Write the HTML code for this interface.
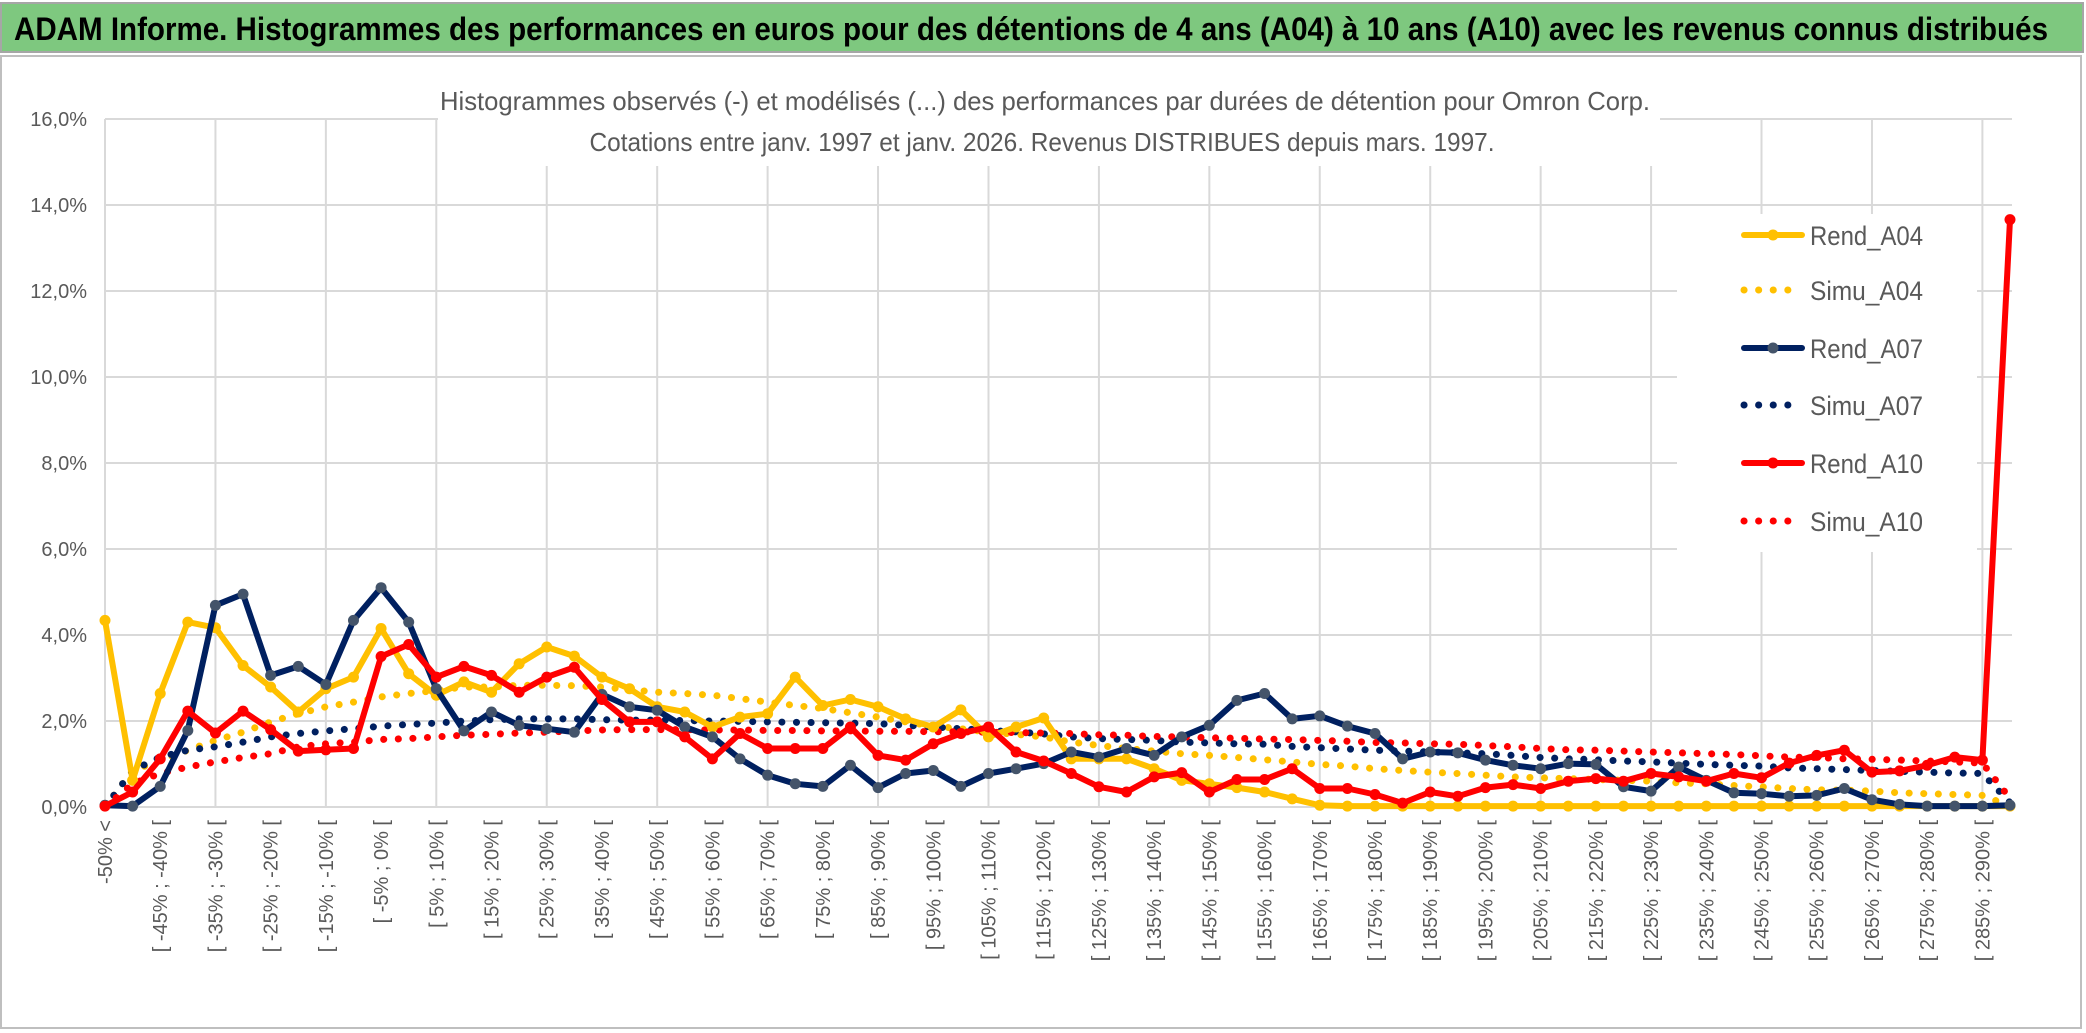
<!DOCTYPE html>
<html><head><meta charset="utf-8"><style>
html,body{margin:0;padding:0;background:#fff;}
svg{display:block;font-family:"Liberation Sans Narrow","Liberation Sans",sans-serif;}
</style></head><body>
<svg id="chart" width="2086" height="1033" viewBox="0 0 2086 1033" xmlns="http://www.w3.org/2000/svg">
<rect x="0" y="0" width="2086" height="1033" fill="#fff"/>
<rect x="1" y="3" width="2082" height="49" fill="#7ec87f" stroke="#a6a6a6" stroke-width="2"/>
<text x="14" y="40" font-size="32" font-weight="bold" fill="#000" textLength="2034" lengthAdjust="spacingAndGlyphs">ADAM Informe. Histogrammes des performances en euros pour des détentions de 4 ans (A04) à 10 ans (A10) avec les revenus connus distribués</text>
<rect x="1" y="56" width="2080" height="972" fill="none" stroke="#bfbfbf" stroke-width="2"/>
<g id="grid"></g>
<rect x="438" y="60" width="1222" height="106" fill="#fff"/>
<text x="1045" y="110" text-anchor="middle" font-size="26" fill="#595959" textLength="1210" lengthAdjust="spacingAndGlyphs">Histogrammes observés (-) et modélisés (...) des performances par durées de détention pour Omron Corp.</text>
<text x="1042" y="151" text-anchor="middle" font-size="26" fill="#595959" textLength="905" lengthAdjust="spacingAndGlyphs">Cotations entre janv. 1997 et janv. 2026. Revenus DISTRIBUES depuis mars. 1997.</text>
<g id="yticks"></g>
<g id="xticks"></g>
<rect x="1677" y="214" width="300" height="338" fill="#fff"/>
<g id="series"></g>
<g id="legend"></g>
</svg>
<script>
const rendA04=[4.34,0.62,2.64,4.30,4.17,3.29,2.79,2.21,2.75,3.02,4.15,3.10,2.60,2.91,2.67,3.33,3.72,3.51,3.02,2.75,2.33,2.21,1.86,2.09,2.17,3.02,2.36,2.50,2.33,2.05,1.86,2.26,1.63,1.86,2.07,1.12,1.12,1.12,0.89,0.62,0.54,0.45,0.35,0.19,0.04,0.02,0.02,0.02,0.02,0.02,0.02,0.02,0.02,0.02,0.02,0.02,0.02,0.02,0.02,0.02,0.02,0.02,0.02,0.02,0.02,0.02,0.02,0.02,0.02,0.02];
const simuA04=[0,0.85,1.08,1.32,1.55,1.74,1.98,2.17,2.33,2.44,2.56,2.64,2.71,2.79,2.79,2.83,2.83,2.82,2.79,2.73,2.67,2.64,2.60,2.52,2.44,2.36,2.29,2.19,2.09,1.98,1.88,1.82,1.74,1.69,1.63,1.51,1.43,1.36,1.30,1.24,1.20,1.15,1.10,1.05,0.99,0.95,0.89,0.85,0.81,0.78,0.74,0.70,0.68,0.66,0.64,0.62,0.60,0.56,0.54,0.50,0.47,0.43,0.40,0.39,0.37,0.33,0.31,0.29,0.27,0.02];
const rendA07=[0.04,0.02,0.48,1.78,4.69,4.95,3.06,3.27,2.85,4.34,5.10,4.30,2.75,1.77,2.21,1.90,1.82,1.74,2.62,2.33,2.25,1.86,1.63,1.12,0.74,0.54,0.48,0.97,0.45,0.78,0.85,0.48,0.78,0.89,1.01,1.28,1.16,1.36,1.20,1.63,1.90,2.48,2.64,2.05,2.12,1.88,1.71,1.12,1.28,1.26,1.09,0.97,0.89,1.01,0.99,0.47,0.37,0.93,0.62,0.33,0.31,0.25,0.27,0.43,0.17,0.06,0.02,0.02,0.02,0.04];
const simuA07=[0,0.85,1.16,1.32,1.40,1.51,1.63,1.71,1.77,1.82,1.88,1.92,1.95,2.00,2.03,2.05,2.05,2.05,2.03,2.02,2.02,2.01,2.00,1.99,1.98,1.97,1.96,1.95,1.94,1.90,1.86,1.82,1.78,1.75,1.70,1.63,1.59,1.57,1.55,1.51,1.49,1.47,1.46,1.41,1.38,1.35,1.32,1.30,1.28,1.26,1.24,1.20,1.15,1.12,1.10,1.07,1.05,1.02,0.99,0.97,0.95,0.91,0.89,0.87,0.85,0.83,0.81,0.79,0.78,0.10];
const rendA10=[0.02,0.35,1.12,2.23,1.72,2.23,1.80,1.30,1.33,1.36,3.50,3.78,3.02,3.27,3.06,2.67,3.02,3.25,2.50,1.98,1.98,1.63,1.12,1.71,1.36,1.36,1.36,1.86,1.20,1.09,1.47,1.71,1.86,1.28,1.07,0.78,0.47,0.35,0.70,0.80,0.35,0.64,0.64,0.89,0.43,0.43,0.29,0.09,0.35,0.25,0.45,0.52,0.43,0.60,0.66,0.60,0.78,0.70,0.60,0.78,0.68,1.02,1.20,1.32,0.81,0.84,0.97,1.16,1.09,13.66];
const simuA10=[0,0.54,0.78,0.93,1.05,1.15,1.24,1.40,1.47,1.51,1.57,1.59,1.63,1.67,1.69,1.72,1.74,1.77,1.79,1.80,1.80,1.80,1.79,1.79,1.78,1.78,1.77,1.77,1.76,1.76,1.75,1.75,1.74,1.73,1.72,1.71,1.68,1.67,1.64,1.63,1.61,1.60,1.58,1.57,1.55,1.53,1.50,1.49,1.47,1.46,1.43,1.40,1.36,1.33,1.32,1.30,1.28,1.26,1.24,1.22,1.19,1.16,1.15,1.12,1.11,1.09,1.07,1.05,1.02,0.20];
const yTicks=[0,2,4,6,8,10,12,14,16];
const yTickLabels=["0,0%","2,0%","4,0%","6,0%","8,0%","10,0%","12,0%","14,0%","16,0%"];
const categories=["-50% <"];
for(let k=1;k<70;k++){categories.push("[ "+(-55+5*k)+"% ; "+(-50+5*k)+"% [");}
const legendNames=["Rend_A04","Simu_A04","Rend_A07","Simu_A07","Rend_A10","Simu_A10"];

const NS="http://www.w3.org/2000/svg";
const X0=105,X1=2010,Y0=807,Y16=119;
function xPos(i){return X0+(X1-X0)*i/(categories.length-1);}
function yPos(v){return Y0-(Y0-Y16)*v/16;}
function mk(tag,attrs,parent){const e=document.createElementNS(NS,tag);for(const k in attrs)e.setAttribute(k,attrs[k]);parent.appendChild(e);return e;}

const grid=document.getElementById('grid');
yTicks.forEach(t=>{
  const l=mk('line',{x1:X0,x2:X1+2,y1:yPos(t),y2:yPos(t),stroke:'#d9d9d9','stroke-width':2},grid);
  
  
});
for(let i=0;i<categories.length;i+=4){
  const l=mk('line',{x1:xPos(i),x2:xPos(i),y1:yPos(16),y2:Y0,stroke:'#d9d9d9','stroke-width':2},grid);
  
  
}
const yt=document.getElementById('yticks');
yTicks.forEach((t,j)=>{
  const e=mk('text',{x:87,y:yPos(t)+7,'text-anchor':'end','font-size':20,fill:'#595959'},yt);
  e.textContent=yTickLabels[j];
  
  
});
const xt=document.getElementById('xticks');
categories.forEach((c,i)=>{
  if(i%2!==0)return;
  const x=xPos(i)+7,y=820;
  const e=mk('text',{x:x,y:y,'text-anchor':'end','font-size':20,fill:'#595959','font-family':'"Liberation Sans",sans-serif',transform:'rotate(-90 '+x+' '+y+')'},xt);
  e.setAttribute('xml:space','preserve');
  e.textContent=c;
  
  
});

const sg=document.getElementById('series');
function pts(arr){return arr.map((v,i)=>xPos(i).toFixed(1)+','+yPos(v).toFixed(1)).join(' ');}
function dotted(arr,color,name){
  const p=mk('polyline',{points:pts(arr),fill:'none',stroke:color,'stroke-width':7,'stroke-linecap':'round','stroke-dasharray':'0.1 14.5'},sg);
  
  
}
function solid(arr,color,mcolor,name){
  const p=mk('polyline',{points:pts(arr),fill:'none',stroke:color,'stroke-width':6,'stroke-linejoin':'round'},sg);
  
  
  arr.forEach((v,i)=>{
    const c=mk('circle',{cx:xPos(i),cy:yPos(v),r:5.5,fill:mcolor},sg);
    
    
  });
}
dotted(simuA04,'#ffc000','simu-a04-line');
dotted(simuA07,'#002060','simu-a07-line');
dotted(simuA10,'#ff0000','simu-a10-line');
solid(rendA04,'#ffc000','#ffc000','rend-a04-line');
solid(rendA07,'#002060','#44546a','rend-a07-line');
solid(rendA10,'#ff0000','#ff0000','rend-a10-line');

const lg=document.getElementById('legend');
const lColors=['#ffc000','#ffc000','#002060','#002060','#ff0000','#ff0000'];
const lY=[235,290,348,405,463,521];
legendNames.forEach((n,j)=>{
  const g=mk('g',{},lg);
  
  
  const y=lY[j];
  if(j%2===0){
    mk('line',{x1:1744,x2:1802,y1:y,y2:y,stroke:lColors[j],'stroke-width':6,'stroke-linecap':'round'},g);
    mk('circle',{cx:1773,cy:y,r:5.5,fill:j===2?'#44546a':lColors[j]},g);
  } else {
    mk('line',{x1:1744,x2:1802,y1:y,y2:y,stroke:lColors[j],'stroke-width':7,'stroke-linecap':'round','stroke-dasharray':'0.1 14.5'},g);
  }
  const t=mk('text',{x:1810,y:y+10,'font-size':27,fill:'#595959',textLength:113,lengthAdjust:'spacingAndGlyphs'},g);
  t.textContent=n;
});
</script>
</body></html>
